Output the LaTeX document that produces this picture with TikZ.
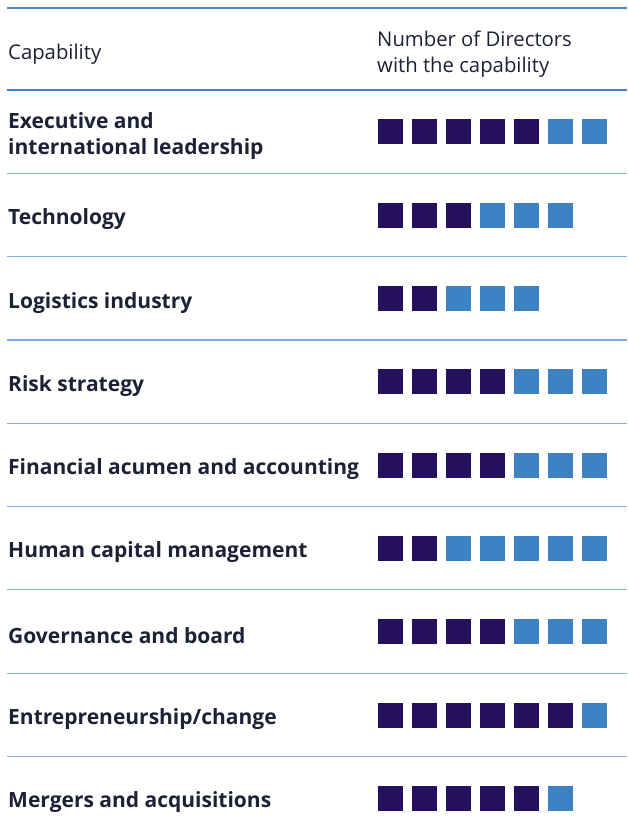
\documentclass[tikz,border=0pt]{standalone}
\usepackage{fontspec}
\setmainfont{Open Sans}
\definecolor{navy}{HTML}{24105C}
\definecolor{sky}{HTML}{3F82C4}
\definecolor{ink}{HTML}{1B2236}
\definecolor{rulecol}{HTML}{4584CC}
\definecolor{rowrule}{HTML}{7FAEE0}

\begin{document}
\begin{tikzpicture}[x=1pt, y=-1pt,
    head/.style = {anchor=west, align=left, text=ink, inner sep=0pt, font=\fontsize{20.3}{26}\selectfont},
    capname/.style = {anchor=west, align=left, text=ink, inner sep=0pt, font=\bfseries\fontsize{21}{26}\selectfont},
    full/.style = {fill=navy, minimum size=25pt, inner sep=0pt},
    part/.style = {fill=sky, minimum size=25pt, inner sep=0pt}]
    \useasboundingbox (0,0) rectangle (627,834);
    % header
    \draw[rulecol, line width=2pt] (7,8) -- (627,8);
    \node[head] (capability) at (8,54) {Capability};
    \node[head] (directors) at (377,54) {Number of Directors\\with the capability};
    \draw[rulecol, line width=2pt] (7,90) -- (627,90);
    % rows
    \foreach \lab/\nd/\nl [count=\i] in {
        {Executive and\\international leadership}/5/2,
        Technology/3/3,
        Logistics industry/2/3,
        Risk strategy/4/3,
        Financial acumen and accounting/4/3,
        Human capital management/2/5,
        Governance and board/4/3,
        {Entrepreneurship/change}/6/1,
        Mergers and acquisitions/5/1} {
        \pgfmathsetmacro{\ry}{132+83.3*(\i-1)}
        \node[capname] (cap\i) at (8,\ry+4) {\lab};
        \foreach \k in {1,...,\nd}
            \node[full] (sq\i-\k) at ({390.5+34*(\k-1)},\ry) {};
        \foreach \k in {1,...,\nl}
            \node[part] (sq\i-p\k) at ({390.5+34*(\nd+\k-1)},\ry) {};
        \ifnum\i<9
            \draw[rowrule, line width=1.2pt] (7,\ry+41.3) -- (627,\ry+41.3);
        \fi
    }
\end{tikzpicture}
\end{document}
